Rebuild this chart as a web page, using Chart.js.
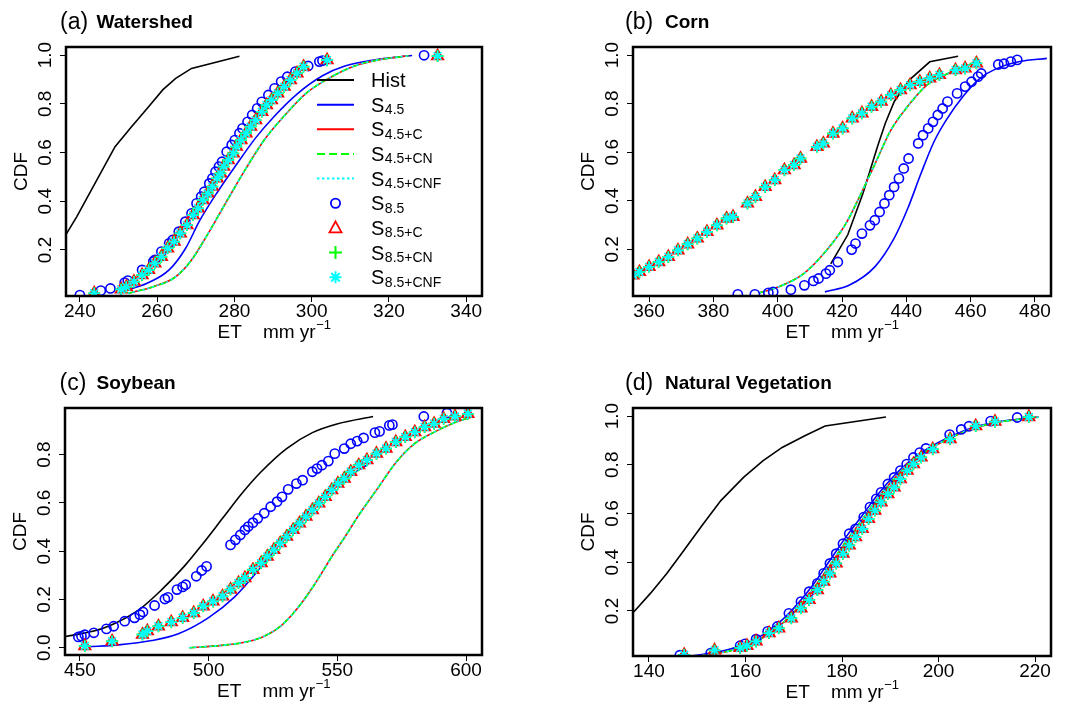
<!DOCTYPE html>
<html><head><meta charset="utf-8">
<script src="https://cdn.jsdelivr.net/npm/chart.js@4"></script>
<style>
html,body{margin:0;padding:0;background:#fff;}
#wrap{position:relative;width:1089px;height:702px;overflow:hidden;background:#fff;}
canvas{position:absolute;}
</style></head><body>
<div id="wrap">
<canvas id="ca" width="545" height="351" style="left:0;top:0"></canvas>
<canvas id="cb" width="544" height="351" style="left:545px;top:0"></canvas>
<canvas id="cc" width="545" height="351" style="left:0;top:351px"></canvas>
<canvas id="cd" width="544" height="351" style="left:545px;top:351px"></canvas>
</div>
<script>
const FONT = '"Liberation Sans", Arial, Helvetica, sans-serif';

// ---------- Panel (a) Watershed ----------
const a_hist_x = [236.3, 239.2, 245.0, 249.1, 253.2, 257.4, 261.5, 264.8, 268.9, 281.3];
const a_hist_y = [0.261, 0.337, 0.505, 0.624, 0.703, 0.781, 0.858, 0.904, 0.945, 0.995];
const a_s45_x = [250.7, 257.4, 263.1, 267.3, 271.0, 275.5, 280.5, 285.5, 290.4, 296.2, 302.8, 308.6, 316.9, 326.0];
const a_s45_y = [0.029, 0.063, 0.118, 0.205, 0.320, 0.435, 0.550, 0.660, 0.750, 0.840, 0.915, 0.955, 0.982, 0.998];
const a_s45c_x = [252.4, 259.0, 264.8, 268.9, 273.1, 278.0, 283.0, 287.9, 292.9, 298.7, 304.5, 311.1, 316.9, 325.1];
const a_s45c_y = [0.022, 0.049, 0.090, 0.159, 0.265, 0.400, 0.535, 0.655, 0.750, 0.845, 0.905, 0.955, 0.979, 0.997];
const a_s85_x = [240.0, 245.4, 247.9, 251.6, 252.4, 256.1, 259.0, 259.4, 261.1, 263.1, 264.0, 265.6, 267.3, 268.9, 270.2, 271.4, 272.2, 273.5, 274.3, 275.1, 276.0, 276.8, 278.0, 279.3, 280.1, 281.3, 282.1, 283.4, 284.6, 285.9, 287.1, 288.8, 290.4, 292.1, 293.7, 295.8, 299.1, 302.0, 302.8, 329.1];
const a_s85_y = [0.015, 0.033, 0.042, 0.066, 0.074, 0.118, 0.152, 0.159, 0.193, 0.227, 0.241, 0.275, 0.316, 0.350, 0.391, 0.419, 0.439, 0.473, 0.494, 0.521, 0.542, 0.562, 0.603, 0.631, 0.651, 0.679, 0.699, 0.726, 0.754, 0.781, 0.808, 0.836, 0.863, 0.891, 0.911, 0.932, 0.955, 0.973, 0.977, 0.999];
const a_s85c_x = [243.7, 250.7, 252.0, 254.0, 256.1, 257.8, 259.4, 261.1, 262.7, 264.4, 266.0, 267.7, 269.3, 270.6, 271.8, 273.1, 274.3, 275.5, 276.4, 277.2, 278.4, 279.7, 280.5, 281.7, 283.0, 284.2, 285.5, 287.1, 288.3, 289.6, 291.2, 292.9, 294.5, 296.2, 297.9, 304.0, 332.6];
const a_s85c_y = [0.022, 0.038, 0.049, 0.070, 0.097, 0.118, 0.145, 0.172, 0.207, 0.234, 0.268, 0.302, 0.343, 0.371, 0.405, 0.432, 0.460, 0.494, 0.514, 0.542, 0.569, 0.596, 0.624, 0.651, 0.679, 0.706, 0.733, 0.767, 0.795, 0.815, 0.843, 0.870, 0.897, 0.925, 0.952, 0.979, 0.996];
const a_xTicks = [240, 260, 280, 300, 320, 340];
const a_xLabels = ['240', '260', '280', '300', '320', '340'];

// ---------- Panel (b) Corn ----------
const b_hist_x = [416.5, 421.8, 426.5, 431.2, 433.5, 436.3, 440.9, 447.3, 456.1];
const b_hist_y = [0.140, 0.260, 0.430, 0.630, 0.720, 0.810, 0.897, 0.972, 0.995];
const b_s45_x = [414.7, 422.2, 430.2, 436.2, 440.5, 444.5, 448.5, 452.3, 457.8, 463.0, 468.3, 475.3, 483.7];
const b_s45_y = [0.025, 0.052, 0.128, 0.245, 0.370, 0.510, 0.640, 0.730, 0.832, 0.905, 0.945, 0.973, 0.986];
const b_s45c_x = [394.1, 400.1, 408.1, 415.2, 421.2, 425.2, 430.2, 435.2, 440.2, 446.3, 452.3, 458.3, 462.3];
const b_s45c_y = [0.020, 0.045, 0.100, 0.196, 0.306, 0.410, 0.550, 0.691, 0.785, 0.875, 0.920, 0.955, 0.970];
const b_s85_x = [387.6, 392.9, 397.1, 398.6, 404.1, 408.3, 411.1, 412.7, 415.0, 416.2, 418.7, 423.0, 424.2, 426.2, 428.7, 430.2, 431.7, 433.2, 434.7, 436.2, 437.7, 439.2, 440.7, 443.7, 445.2, 446.8, 448.3, 449.8, 451.3, 452.8, 455.8, 458.3, 460.3, 462.3, 463.3, 468.6, 470.4, 472.5, 474.5];
const b_s85_y = [0.015, 0.015, 0.021, 0.025, 0.034, 0.052, 0.070, 0.080, 0.100, 0.114, 0.148, 0.199, 0.224, 0.265, 0.299, 0.320, 0.354, 0.389, 0.423, 0.457, 0.492, 0.533, 0.574, 0.636, 0.670, 0.698, 0.725, 0.753, 0.780, 0.808, 0.842, 0.870, 0.890, 0.911, 0.924, 0.961, 0.964, 0.973, 0.980];
const b_s85c_x = [355.0, 357.0, 360.0, 363.0, 366.0, 369.0, 372.0, 375.0, 378.0, 381.1, 384.1, 386.1, 390.6, 393.1, 396.1, 399.1, 402.1, 405.1, 407.1, 412.2, 414.2, 417.2, 420.2, 423.2, 426.2, 429.2, 432.2, 435.2, 438.2, 441.2, 444.2, 447.3, 450.3, 455.3, 458.3, 461.8];
const b_s85c_y = [0.093, 0.107, 0.128, 0.148, 0.169, 0.196, 0.221, 0.245, 0.272, 0.299, 0.327, 0.334, 0.389, 0.416, 0.457, 0.485, 0.526, 0.547, 0.574, 0.622, 0.636, 0.677, 0.698, 0.739, 0.760, 0.787, 0.808, 0.835, 0.856, 0.876, 0.890, 0.904, 0.918, 0.938, 0.945, 0.966];
const b_xTicks = [360, 380, 400, 420, 440, 460, 480];
const b_xLabels = ['360', '380', '400', '420', '440', '460', '480'];

// ---------- Panel (c) Soybean ----------
const c_hist_x = [443.8, 459.3, 473.0, 481.8, 490.5, 497.9, 505.4, 512.9, 520.4, 530.3, 540.3, 550.2, 563.9];
const c_hist_y = [0.045, 0.082, 0.158, 0.241, 0.337, 0.433, 0.536, 0.639, 0.729, 0.825, 0.891, 0.928, 0.958];
const c_s45_x = [453.0, 465.0, 478.0, 488.0, 500.0, 510.0, 520.0, 530.0, 540.0, 550.0, 562.0];
const c_s45_y = [0.004, 0.012, 0.030, 0.057, 0.125, 0.210, 0.330, 0.460, 0.580, 0.680, 0.760];
const c_s45c_x = [492.5, 505.0, 515.0, 522.0, 528.0, 535.0, 541.0, 548.0, 553.0, 559.0, 565.0, 573.0, 580.0, 588.0, 595.0, 602.0];
const c_s45c_y = [0.000, 0.010, 0.025, 0.050, 0.090, 0.170, 0.260, 0.380, 0.460, 0.560, 0.650, 0.770, 0.845, 0.895, 0.930, 0.955];
const c_s85_x = [449.4, 450.6, 451.9, 455.4, 460.3, 463.1, 467.4, 471.2, 473.3, 474.5, 479.0, 483.0, 484.2, 487.7, 489.9, 491.1, 495.2, 497.3, 499.2, 508.5, 510.4, 512.3, 514.1, 515.4, 517.2, 519.1, 521.6, 524.1, 526.6, 528.5, 530.9, 534.1, 536.5, 540.3, 542.1, 544.0, 546.5, 549.0, 552.7, 555.2, 557.7, 560.2, 564.6, 566.4, 570.2, 571.4, 583.6, 592.6];
const c_s85_y = [0.045, 0.048, 0.054, 0.062, 0.078, 0.089, 0.110, 0.124, 0.137, 0.148, 0.175, 0.202, 0.209, 0.241, 0.252, 0.261, 0.296, 0.320, 0.337, 0.426, 0.447, 0.467, 0.488, 0.502, 0.518, 0.536, 0.557, 0.584, 0.605, 0.625, 0.656, 0.680, 0.694, 0.729, 0.742, 0.756, 0.773, 0.804, 0.825, 0.845, 0.856, 0.869, 0.891, 0.896, 0.921, 0.924, 0.958, 0.972];
const c_s85c_x = [451.9, 462.5, 474.3, 476.2, 480.5, 485.5, 489.9, 494.2, 497.9, 501.7, 505.4, 508.5, 511.6, 514.1, 517.2, 520.4, 522.8, 525.3, 527.8, 530.3, 532.8, 535.3, 537.8, 540.3, 542.8, 545.3, 547.8, 550.2, 552.7, 555.2, 558.3, 561.5, 565.2, 568.9, 572.7, 576.4, 580.1, 583.9, 587.6, 591.3, 595.7, 600.7];
const c_s85c_y = [0.007, 0.027, 0.055, 0.069, 0.089, 0.106, 0.124, 0.144, 0.172, 0.192, 0.213, 0.241, 0.268, 0.289, 0.323, 0.351, 0.378, 0.405, 0.433, 0.460, 0.488, 0.515, 0.543, 0.570, 0.598, 0.625, 0.653, 0.680, 0.701, 0.729, 0.756, 0.777, 0.804, 0.825, 0.852, 0.873, 0.893, 0.914, 0.928, 0.948, 0.958, 0.969];
const c_xTicks = [450, 500, 550, 600];
const c_xLabels = ['450', '500', '550', '600'];

// ---------- Panel (d) Natural Vegetation ----------
const d_hist_x = [136.9, 140.3, 143.7, 147.0, 151.0, 154.9, 159.6, 163.6, 167.6, 172.2, 176.5, 189.1];
const d_hist_y = [0.197, 0.272, 0.354, 0.442, 0.551, 0.653, 0.748, 0.816, 0.871, 0.918, 0.959, 0.996];
const d_s45_x = [149.0, 154.9, 159.6, 163.6, 167.6, 170.9, 174.2, 177.5, 180.8, 184.2, 187.5, 190.8, 194.1, 198.1, 202.1, 206.7, 211.4, 216.0, 220.7];
const d_s45_y = [0.016, 0.034, 0.061, 0.102, 0.163, 0.231, 0.313, 0.408, 0.503, 0.592, 0.680, 0.755, 0.816, 0.871, 0.912, 0.950, 0.973, 0.986, 0.996];
const d_s45c_x = [149.0, 154.9, 159.6, 163.6, 167.6, 170.9, 174.2, 177.5, 180.8, 184.2, 187.5, 190.8, 194.1, 198.1, 202.1, 206.7, 211.4, 216.0, 220.7];
const d_s45c_y = [0.012, 0.028, 0.053, 0.090, 0.148, 0.213, 0.295, 0.388, 0.485, 0.575, 0.665, 0.743, 0.806, 0.864, 0.907, 0.946, 0.971, 0.985, 0.995];
const d_s85_x = [146.4, 152.8, 158.9, 159.9, 162.2, 164.6, 166.6, 169.0, 171.5, 173.2, 174.9, 176.2, 177.5, 178.8, 180.2, 181.5, 182.8, 184.5, 185.8, 187.1, 188.1, 189.5, 190.8, 192.1, 193.4, 194.8, 196.1, 197.4, 202.3, 204.7, 206.3, 210.8, 216.3];
const d_s85_y = [0.018, 0.027, 0.057, 0.065, 0.084, 0.116, 0.136, 0.190, 0.238, 0.279, 0.313, 0.354, 0.395, 0.435, 0.476, 0.517, 0.537, 0.585, 0.626, 0.660, 0.687, 0.721, 0.748, 0.776, 0.803, 0.830, 0.850, 0.867, 0.924, 0.945, 0.958, 0.979, 0.994];
const d_s85c_x = [147.3, 153.6, 158.9, 160.3, 162.2, 164.9, 166.9, 169.5, 171.5, 173.2, 174.9, 176.2, 177.5, 178.8, 180.2, 181.5, 182.8, 184.2, 185.5, 186.8, 188.1, 189.5, 190.8, 192.1, 193.5, 194.8, 196.4, 198.8, 202.4, 207.7, 211.7, 218.7];
const d_s85c_y = [0.020, 0.038, 0.048, 0.057, 0.075, 0.109, 0.129, 0.170, 0.211, 0.245, 0.286, 0.320, 0.354, 0.395, 0.435, 0.469, 0.503, 0.537, 0.578, 0.612, 0.646, 0.680, 0.707, 0.741, 0.776, 0.803, 0.830, 0.864, 0.905, 0.959, 0.977, 0.996];
const d_xTicks = [140, 160, 180, 200, 220];
const d_xLabels = ['140', '160', '180', '200', '220'];

// ---------- shared ----------
const yTicksA = [0.2, 0.4, 0.6, 0.8, 1.0];
const yLabelsA = ['0.2', '0.4', '0.6', '0.8', '1.0'];
const yTicksC = [0.0, 0.2, 0.4, 0.6, 0.8];
const yLabelsC = ['0.0', '0.2', '0.4', '0.6', '0.8'];
const legendMain = ['Hist', 'S', 'S', 'S', 'S', 'S', 'S', 'S', 'S'];
const legendSub = ['', '4.5', '4.5+C', '4.5+CN', '4.5+CNF', '8.5', '8.5+C', '8.5+CN', '8.5+CNF'];
const seriesColors = ['#000000', '#0000FF', '#FF0000', '#00FF00', '#00FFFF', '#0000FF', '#FF0000', '#00FF00', '#00FFFF'];
const legendKinds = ['line', 'line', 'line', 'dash', 'dot', 'circle', 'triangle', 'plus', 'star'];

function pts(xs, ys) { return xs.map((x, i) => ({x: x, y: ys[i]})); }

function buildSets(P) {
  const mk = (data, style, r, col, fill, bw) => ({data, showLine: false, pointStyle: style, pointRadius: r,
    pointBorderColor: col, pointBackgroundColor: fill, pointBorderWidth: bw, borderColor: col, clip: 0});
  const ln = (data, col, dash, smooth) => ({data, showLine: true, pointRadius: 0, borderColor: col,
    borderWidth: 1.6, borderDash: dash, cubicInterpolationMode: smooth ? 'monotone' : 'default', tension: 0, clip: 0});
  const s85c = pts(P.s85c_x, P.s85c_y), s45c = pts(P.s45c_x, P.s45c_y);
  return [
    mk(s85c, 'star', 5.5, seriesColors[8], seriesColors[8], 1.6),
    mk(s85c, 'cross', 6, seriesColors[7], seriesColors[7], 1.8),
    mk(s85c, 'triangle', 6.5, seriesColors[6], 'rgba(0,0,0,0)', 1.8),
    mk(pts(P.s85_x, P.s85_y), 'circle', 4.6, seriesColors[5], 'rgba(0,0,0,0)', 1.6),
    ln(s45c, seriesColors[4], [2, 3], true),
    ln(s45c, seriesColors[3], [7, 4], true),
    ln(s45c, seriesColors[2], [], true),
    ln(pts(P.s45_x, P.s45_y), seriesColors[1], [], true),
    ln(pts(P.hist_x, P.hist_y), seriesColors[0], [], P.histSmooth)
  ];
}

function drawLegend(c) {
  const lx0 = 317, lx1 = 354, mx = 335.5, tx = 371, y0 = 80, dy = 24.65;
  legendMain.forEach((m, i) => {
    const y = y0 + i * dy, col = seriesColors[i], k = legendKinds[i];
    c.save(); c.strokeStyle = col; c.lineWidth = 2;
    if (k === 'line' || k === 'dash' || k === 'dot') {
      c.setLineDash(k === 'dash' ? [8, 4] : (k === 'dot' ? [2.5, 2.5] : []));
      c.beginPath(); c.moveTo(lx0, y); c.lineTo(lx1, y); c.stroke();
    } else if (k === 'circle') {
      c.lineWidth = 1.8; c.beginPath(); c.arc(mx, y, 4.6, 0, Math.PI * 2); c.stroke();
    } else if (k === 'triangle') {
      c.lineWidth = 1.8; c.beginPath(); c.moveTo(mx, y - 6.5); c.lineTo(mx + 6, y + 4.5); c.lineTo(mx - 6, y + 4.5); c.closePath(); c.stroke();
    } else if (k === 'plus') {
      c.lineWidth = 2; c.beginPath(); c.moveTo(mx - 6.5, y); c.lineTo(mx + 6.5, y); c.moveTo(mx, y - 6.5); c.lineTo(mx, y + 6.5); c.stroke();
    } else {
      c.lineWidth = 2; c.beginPath();
      for (let j = 0; j < 4; j++) { const t = j * Math.PI / 4; c.moveTo(mx - 6 * Math.cos(t), y - 6 * Math.sin(t)); c.lineTo(mx + 6 * Math.cos(t), y + 6 * Math.sin(t)); }
      c.stroke();
    }
    c.restore();
    c.fillStyle = '#000'; c.textAlign = 'left'; c.textBaseline = 'alphabetic';
    c.font = '20px ' + FONT; c.fillText(m, tx, y + 7);
    if (legendSub[i]) { const w = c.measureText(m).width; c.font = '14px ' + FONT; c.fillText(legendSub[i], tx + w + 0.5, y + 9.5); }
  });
}

function decor(P) {
  return { id: 'decor', afterDraw(chart) {
    const c = chart.ctx, a = chart.chartArea, ys = chart.scales.y;
    c.save();
    c.fillStyle = '#000'; c.strokeStyle = '#000';
    c.font = '19px ' + FONT; c.textAlign = 'center'; c.textBaseline = 'middle';
    ys.ticks.forEach((t, i) => {
      const py = ys.getPixelForValue(t.value);
      c.save(); c.translate(a.left - 20, py); c.rotate(-Math.PI / 2); c.fillText(P.yLabels[i], 0, 0); c.restore();
    });
    c.save(); c.translate(a.left - 44, (a.top + a.bottom) / 2); c.rotate(-Math.PI / 2); c.fillText('CDF', 0, 0); c.restore();
    const cx = (a.left + a.right) / 2, by = a.bottom + 42.3;
    const t1 = 'ET    mm yr', t2 = '\u22121';
    c.font = '19px ' + FONT; const w1 = c.measureText(t1).width;
    c.font = '13px ' + FONT; const w2 = c.measureText(t2).width;
    const x0 = cx - (w1 + w2) / 2;
    c.textAlign = 'left'; c.textBaseline = 'alphabetic';
    c.font = '19px ' + FONT; c.fillText(t1, x0, by);
    c.font = '13px ' + FONT; c.fillText(t2, x0 + w1 + 0.5, by - 9);
    c.textBaseline = 'middle';
    c.font = '23px ' + FONT; c.fillText(P.tag, P.tagX, P.titleY);
    c.font = 'bold 19px ' + FONT; c.fillText(P.name, P.nameX, P.titleY);
    c.lineWidth = 2.5; c.strokeRect(a.left, a.top, a.right - a.left, a.bottom - a.top);
    if (P.legend) drawLegend(c);
    c.restore();
  }};
}

function makeChart(id, P) {
  const cv = document.getElementById(id);
  const W = cv.width, H = cv.height, A = P.area;
  return new Chart(cv.getContext('2d'), {
    type: 'scatter',
    data: { datasets: buildSets(P) },
    options: {
      responsive: false, animation: false, events: [],
      layout: { padding: { left: 0, top: A[1], right: W - A[2], bottom: 0 } },
      plugins: { legend: { display: false }, tooltip: { enabled: false }, title: { display: false } },
      scales: {
        x: { type: 'linear', position: 'bottom', min: P.xMin, max: P.xMax,
          afterBuildTicks: s => { s.ticks = P.xTicks.map(v => ({value: v})); },
          afterFit: s => { s.height = H - A[3]; },
          ticks: { autoSkip: false, maxRotation: 0, minRotation: 0, padding: 0, color: '#000',
            font: { family: FONT, size: 19, lineHeight: 1 }, callback: (v, i) => P.xLabels[i] },
          grid: { display: true, drawOnChartArea: false, drawTicks: true, tickLength: 6, color: '#000', lineWidth: 1 },
          border: { display: false } },
        y: { type: 'linear', position: 'left', min: P.yMin, max: P.yMax,
          afterBuildTicks: s => { s.ticks = P.yTicks.map(v => ({value: v})); },
          afterFit: s => { s.width = A[0]; },
          ticks: { display: false },
          grid: { display: true, drawOnChartArea: false, drawTicks: true, tickLength: 6, color: '#000', lineWidth: 1 },
          border: { display: false } }
      }
    },
    plugins: [decor(P)]
  });
}

makeChart('ca', { area: [66, 47, 482, 296], xMin: 236.4, xMax: 344.1, yMin: 0.011, yMax: 1.033,
  xTicks: a_xTicks, xLabels: a_xLabels, yTicks: yTicksA, yLabels: yLabelsA,
  hist_x: a_hist_x, hist_y: a_hist_y, s45_x: a_s45_x, s45_y: a_s45_y, s45c_x: a_s45c_x, s45c_y: a_s45c_y,
  s85_x: a_s85_x, s85_y: a_s85_y, s85c_x: a_s85c_x, s85c_y: a_s85c_y, histSmooth: false,
  tag: '(a)', name: 'Watershed', tagX: 60, nameX: 96.5, titleY: 23, legend: true });
makeChart('cb', { area: [88, 47, 506, 296], xMin: 355.0, xMax: 485.0, yMin: 0.008, yMax: 1.033,
  xTicks: b_xTicks, xLabels: b_xLabels, yTicks: yTicksA, yLabels: yLabelsA,
  hist_x: b_hist_x, hist_y: b_hist_y, s45_x: b_s45_x, s45_y: b_s45_y, s45c_x: b_s45c_x, s45c_y: b_s45c_y,
  s85_x: b_s85_x, s85_y: b_s85_y, s85c_x: b_s85c_x, s85c_y: b_s85c_y, histSmooth: false,
  tag: '(b)', name: 'Corn', tagX: 80, nameX: 120, titleY: 23, legend: false });
makeChart('cc', { area: [65, 57, 482, 304], xMin: 444.2, xMax: 606.2, yMin: -0.030, yMax: 0.993,
  xTicks: c_xTicks, xLabels: c_xLabels, yTicks: yTicksC, yLabels: yLabelsC,
  hist_x: c_hist_x, hist_y: c_hist_y, s45_x: c_s45_x, s45_y: c_s45_y, s45c_x: c_s45c_x, s45c_y: c_s45c_y,
  s85_x: c_s85_x, s85_y: c_s85_y, s85c_x: c_s85c_x, s85c_y: c_s85c_y, histSmooth: true,
  tag: '(c)', name: 'Soybean', tagX: 59.5, nameX: 96.5, titleY: 32.3, legend: false });
makeChart('cd', { area: [88, 57, 506, 305], xMin: 136.7, xMax: 223.3, yMin: 0.015, yMax: 1.033,
  xTicks: d_xTicks, xLabels: d_xLabels, yTicks: yTicksA, yLabels: yLabelsA,
  hist_x: d_hist_x, hist_y: d_hist_y, s45_x: d_s45_x, s45_y: d_s45_y, s45c_x: d_s45c_x, s45c_y: d_s45c_y,
  s85_x: d_s85_x, s85_y: d_s85_y, s85c_x: d_s85c_x, s85c_y: d_s85c_y, histSmooth: false,
  tag: '(d)', name: 'Natural Vegetation', tagX: 80, nameX: 120, titleY: 32.3, legend: false });
</script>
</body></html>
